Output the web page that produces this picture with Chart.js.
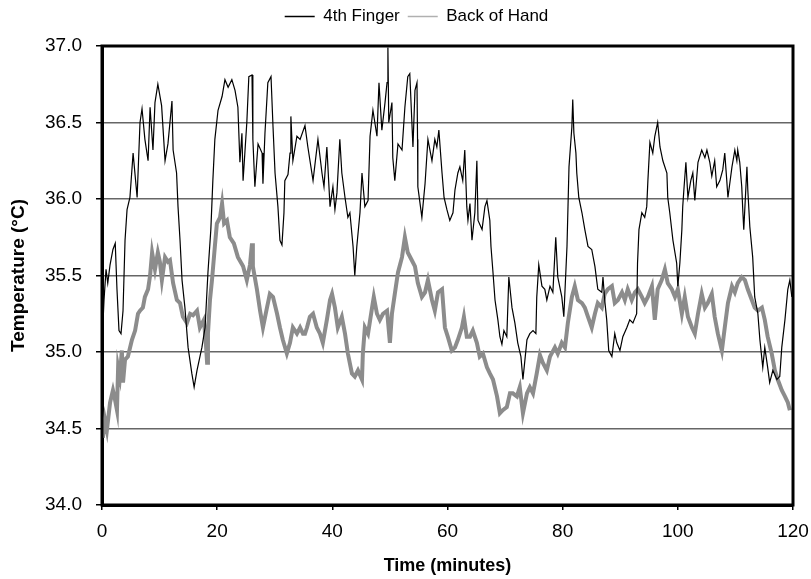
<!DOCTYPE html>
<html><head><meta charset="utf-8">
<script src="https://cdn.jsdelivr.net/npm/chart.js@4.4.1/dist/chart.umd.min.js"></script>
<style>html,body{margin:0;padding:0;background:#fff;}</style>
</head><body>
<canvas id="c" width="811" height="579"></canvas>
<script>
const seriesNames = ['4th Finger', 'Back of Hand'];
const xTickValues = [0, 20, 40, 60, 80, 100, 120];
const yTickValues = [34.0, 34.5, 35.0, 35.5, 36.0, 36.5, 37.0];

const fingerTime = [0.0,0.35,0.7,1.0,1.4,1.9,2.3,2.6,2.95,3.3,3.65,4.0,4.35,4.85,5.4,6.1,6.6,6.95,7.45,8.0,8.35,8.85,9.2,9.7,10.35,10.95,11.45,12.15,12.35,12.95,13.2,13.55,13.9,14.4,14.95,15.6,16.0,16.5,17.35,17.9,18.4,18.9,19.25,19.6,20.15,20.85,21.35,21.9,22.55,23.1,23.6,23.95,24.3,24.5,25.15,25.5,26.05,26.2,26.55,27.1,27.8,27.95,28.3,28.8,29.35,29.7,30.05,30.55,30.9,31.25,31.6,31.75,32.3,32.65,32.8,33.15,33.85,34.4,35.25,35.75,36.65,37.5,38.2,38.55,39.05,39.6,40.1,40.45,40.8,41.3,41.65,42.2,42.7,43.05,43.6,43.9,44.25,44.8,45.15,45.65,46.2,46.55,47.05,47.75,48.1,48.6,49.15,49.5,49.65,49.8,50.35,50.5,50.85,51.4,52.1,52.6,53.1,53.45,54.0,54.35,54.7,54.8,54.85,55.55,56.1,56.6,57.3,57.8,58.15,58.5,59.05,59.4,59.9,60.4,60.95,61.3,61.8,62.15,62.65,63.0,63.35,63.55,63.9,64.25,64.75,65.1,65.3,66.0,66.5,66.85,67.35,67.55,67.9,68.25,68.75,69.1,69.45,69.8,70.3,70.65,71.2,71.7,72.2,72.75,73.1,73.45,73.8,74.3,74.85,75.35,75.5,75.85,76.4,76.9,77.25,77.8,78.3,78.8,79.15,79.85,80.2,80.75,81.1,81.6,81.75,81.95,82.3,82.45,82.8,83.35,83.85,84.4,85.05,85.6,86.1,86.8,87.0,87.3,87.65,88.0,88.55,89.05,89.4,89.95,90.45,91.15,91.65,92.2,92.85,93.0,93.25,93.75,94.25,94.6,94.8,95.15,95.65,96.0,96.5,96.9,97.4,98.1,98.25,98.6,99.15,99.8,100.0,100.35,100.7,100.85,101.05,101.4,101.75,102.25,102.6,102.95,103.5,104.15,104.7,105.05,105.55,105.9,106.4,106.75,107.3,107.8,108.15,108.5,108.7,109.4,109.9,110.25,110.4,110.75,111.1,111.3,111.45,112.0,112.15,112.5,113.0,113.35,113.9,114.25,114.75,115.1,115.6,115.95,116.5,117.2,117.7,118.05,118.6,119.1,119.45,119.8];
const fingerTemp = [35.05,35.34,35.54,35.45,35.57,35.67,35.71,35.41,35.14,35.12,35.27,35.73,35.93,36.01,36.30,36.01,36.50,36.59,36.39,36.25,36.60,36.32,36.63,36.75,36.61,36.25,36.36,36.64,36.32,36.17,35.95,35.73,35.47,35.29,35.03,34.86,34.77,34.88,35.03,35.16,35.52,35.80,36.12,36.39,36.58,36.67,36.78,36.73,36.78,36.71,36.60,36.24,36.43,36.12,36.50,36.80,36.81,36.39,36.08,36.36,36.30,36.10,36.43,36.76,36.80,36.47,36.17,35.95,35.73,35.70,35.91,36.12,36.16,36.30,36.54,36.25,36.41,36.39,36.48,36.34,36.12,36.39,36.17,36.08,36.34,35.95,36.08,35.93,36.04,36.39,36.17,36.01,35.88,35.91,35.69,35.50,35.69,35.91,36.17,35.95,35.99,36.41,36.58,36.41,36.76,36.45,36.63,36.76,36.99,36.50,36.63,36.27,36.12,36.36,36.32,36.60,36.80,36.82,36.34,36.71,36.76,36.39,36.08,35.88,36.10,36.39,36.25,36.39,36.34,36.45,36.17,36.01,35.93,35.86,35.91,36.06,36.17,36.21,36.12,36.32,35.95,35.86,35.97,35.73,35.91,36.25,35.86,35.80,35.95,35.99,35.86,35.69,35.52,35.34,35.21,35.10,35.05,35.14,35.10,35.49,35.29,35.19,35.06,34.97,34.82,34.95,35.08,35.12,35.14,35.12,35.36,35.57,35.43,35.41,35.34,35.43,35.39,35.75,35.49,35.36,35.23,35.69,36.21,36.47,36.65,36.43,36.30,36.17,36.01,35.91,35.80,35.69,35.67,35.56,35.41,35.39,35.49,35.34,35.21,35.01,34.97,35.12,35.06,35.01,35.10,35.16,35.21,35.19,35.25,35.58,35.80,35.91,35.88,35.95,36.12,36.37,36.30,36.41,36.50,36.34,36.25,36.17,36.01,35.91,35.73,35.58,35.43,35.58,35.80,35.95,36.06,36.24,36.01,36.12,36.17,35.99,36.24,36.32,36.27,36.32,36.24,36.15,36.25,36.08,36.12,36.19,36.30,36.12,36.01,36.21,36.32,36.25,36.32,36.24,36.08,35.91,35.80,36.21,36.06,35.82,35.62,35.36,35.25,35.08,34.90,35.03,34.90,34.80,34.88,34.82,34.84,35.03,35.21,35.41,35.47,35.36];

const handTime = [0.0,0.15,0.5,0.85,1.4,1.9,2.25,2.6,2.8,3.1,3.45,3.65,4.0,4.5,5.2,5.75,6.25,6.6,7.1,7.45,8.0,8.35,8.7,9.2,9.7,10.05,10.4,10.95,11.45,11.8,12.35,13.0,13.55,14.05,14.75,15.3,15.8,16.5,17.0,17.7,18.05,18.25,18.4,18.75,19.1,19.6,19.95,20.5,20.85,21.2,21.7,22.2,22.9,23.6,24.5,25.15,25.7,26.05,26.2,26.9,27.45,27.95,28.65,29.15,29.7,30.4,30.9,31.4,32.1,32.65,33.15,33.85,34.4,34.9,35.25,35.6,36.1,36.65,37.3,37.85,38.35,39.05,39.6,39.95,40.45,40.95,41.65,42.2,42.7,43.4,43.9,44.45,45.15,45.3,45.65,46.2,46.9,47.2,47.75,48.25,48.8,49.5,50.0,50.35,50.85,51.4,52.1,52.6,53.1,53.8,54.35,54.85,55.55,56.1,56.6,57.3,57.8,58.35,59.05,59.55,60.05,60.75,61.3,61.8,62.5,62.85,63.35,63.9,64.4,65.1,65.6,66.15,66.85,67.35,67.9,68.6,69.1,69.6,70.3,70.85,71.35,72.05,72.55,73.1,73.8,74.3,74.85,75.5,76.05,76.55,77.25,77.8,78.65,79.15,79.85,80.4,80.9,81.6,82.1,82.65,83.35,83.85,84.4,85.05,85.6,86.1,86.8,87.3,87.85,88.55,89.05,89.6,90.3,90.8,91.3,92.0,92.55,93.05,93.75,94.25,94.8,95.5,96.0,96.5,97.2,97.75,98.25,98.95,99.5,100.0,100.7,101.2,101.75,102.45,102.95,103.5,104.15,104.7,105.2,105.9,106.4,106.95,107.65,108.15,108.7,109.4,109.9,110.4,111.1,111.65,112.15,112.85,113.35,113.9,114.6,115.1,115.6,116.3,116.85,117.35,118.05,118.6,119.1,119.45];
const handTemp = [34.52,34.44,34.56,34.49,34.67,34.75,34.69,34.62,34.90,34.84,35.01,34.80,34.95,34.97,35.08,35.14,35.25,35.27,35.29,35.36,35.41,35.50,35.65,35.54,35.65,35.59,35.47,35.62,35.59,35.60,35.45,35.34,35.32,35.23,35.19,35.25,35.24,35.27,35.16,35.21,35.05,34.93,35.12,35.34,35.47,35.69,35.84,35.88,35.97,35.84,35.86,35.75,35.71,35.62,35.56,35.47,35.57,35.71,35.56,35.41,35.27,35.16,35.29,35.38,35.36,35.25,35.16,35.08,34.99,35.06,35.16,35.12,35.16,35.12,35.12,35.16,35.23,35.25,35.16,35.12,35.06,35.21,35.34,35.38,35.29,35.16,35.23,35.12,34.99,34.86,34.84,34.88,34.82,34.99,35.16,35.12,35.29,35.36,35.25,35.21,35.25,35.27,35.06,35.25,35.38,35.52,35.62,35.75,35.65,35.60,35.56,35.45,35.36,35.39,35.47,35.34,35.27,35.39,35.41,35.16,35.10,35.01,35.03,35.08,35.16,35.23,35.10,35.10,35.14,35.06,34.97,34.99,34.90,34.86,34.82,34.71,34.60,34.62,34.64,34.73,34.73,34.71,34.77,34.60,34.73,34.77,34.73,34.86,34.98,34.93,34.88,34.97,35.03,34.99,35.06,35.03,35.19,35.36,35.43,35.34,35.32,35.29,35.23,35.16,35.25,35.32,35.29,35.38,35.41,35.43,35.32,35.34,35.39,35.34,35.41,35.34,35.39,35.41,35.36,35.32,35.36,35.43,35.21,35.41,35.47,35.54,35.45,35.41,35.36,35.41,35.25,35.36,35.23,35.16,35.12,35.25,35.38,35.29,35.32,35.38,35.23,35.12,35.01,35.16,35.32,35.43,35.39,35.45,35.49,35.47,35.41,35.34,35.29,35.27,35.29,35.21,35.10,34.99,34.88,34.82,34.75,34.71,34.67,34.62];

const FONT = "'Liberation Sans', Arial, Helvetica, sans-serif";

const framePlugin = {
  id: 'frame',
  beforeLayout(chart) {
    if (chart.legend && !chart.legend._patched) {
      const orig = chart.legend.fit;
      chart.legend.fit = function () { orig.call(this); this.height = 46; };
      chart.legend._patched = true;
    }
  },
  afterLayout(chart) {
    if (chart.legend) { chart.legend.left = 40; }
  },
  afterDatasetsDraw(chart) {
    const a = chart.chartArea, ctx = chart.ctx;
    ctx.save();
    ctx.strokeStyle = '#000';
    ctx.lineWidth = 3;
    ctx.strokeRect(a.left, a.top, a.right - a.left, a.bottom - a.top);
    ctx.restore();
  }
};

new Chart(document.getElementById('c'), {
  type: 'line',
  data: {
    datasets: [
      { label: seriesNames[0], data: fingerTime.map((t, i) => ({ x: t, y: fingerTemp[i] })),
        borderColor: '#000000', borderWidth: 1.2, pointRadius: 0, tension: 0, fill: false },
      { label: seriesNames[1], data: handTime.map((t, i) => ({ x: t, y: handTemp[i] })),
        borderColor: '#8c8c8c', borderWidth: 4, pointRadius: 0, tension: 0, fill: false }
    ]
  },
  options: {
    responsive: false,
    animation: false,
    layout: { padding: { left: 0, right: 18, top: 0, bottom: 0 } },
    plugins: {
      legend: {
        position: 'top',
        align: 'center',
        labels: {
          usePointStyle: true,
          pointStyle: 'line',
          pointStyleWidth: 30,
          padding: 8,
          color: '#000',
          font: { family: FONT, size: 17 },
          generateLabels(chart) {
            const items = Chart.defaults.plugins.legend.labels.generateLabels(chart);
            items.forEach((it, i) => {
              it.lineWidth = 1.5;
              it.strokeStyle = i === 0 ? '#000' : '#b0b0b0';
              it.pointStyle = 'line';
            });
            return items;
          }
        }
      },
      tooltip: { enabled: false }
    },
    scales: {
      x: {
        type: 'linear',
        min: 0, max: 120,
        afterFit(s) { s.height = 74; s.paddingLeft = 0; s.paddingRight = 0; },
        afterBuildTicks(s) { s.ticks = xTickValues.map(v => ({ value: v })); },
        ticks: { color: '#000', font: { family: FONT, size: 19 }, padding: 10, maxRotation: 0,
                 callback: v => String(v) },
        grid: { drawOnChartArea: false, drawTicks: true, tickLength: 5, tickColor: '#000', lineWidth: 1.5 },
        border: { display: true, color: '#000', width: 3 },
        title: { display: true, text: 'Time (minutes)', color: '#000',
                 font: { family: FONT, size: 18, weight: 'bold' }, padding: { top: 0, bottom: 2 } }
      },
      y: {
        type: 'linear',
        min: 34, max: 37,
        afterFit(s) { s.width = 102; s.paddingTop = 0; s.paddingBottom = 0; },
        afterBuildTicks(s) { s.ticks = yTickValues.map(v => ({ value: v })); },
        ticks: { color: '#000', font: { family: FONT, size: 19 }, padding: 14,
                 callback: v => Number(v).toFixed(1) },
        grid: { color: '#666666', lineWidth: 1.5, tickLength: 6, tickColor: '#000' },
        border: { display: true, color: '#000', width: 3 },
        title: { display: true, text: 'Temperature (°C)', color: '#000',
                 font: { family: FONT, size: 19, weight: 'bold' }, padding: { top: 7, bottom: 0 } }
      }
    }
  },
  plugins: [framePlugin]
});
</script>
</body></html>
